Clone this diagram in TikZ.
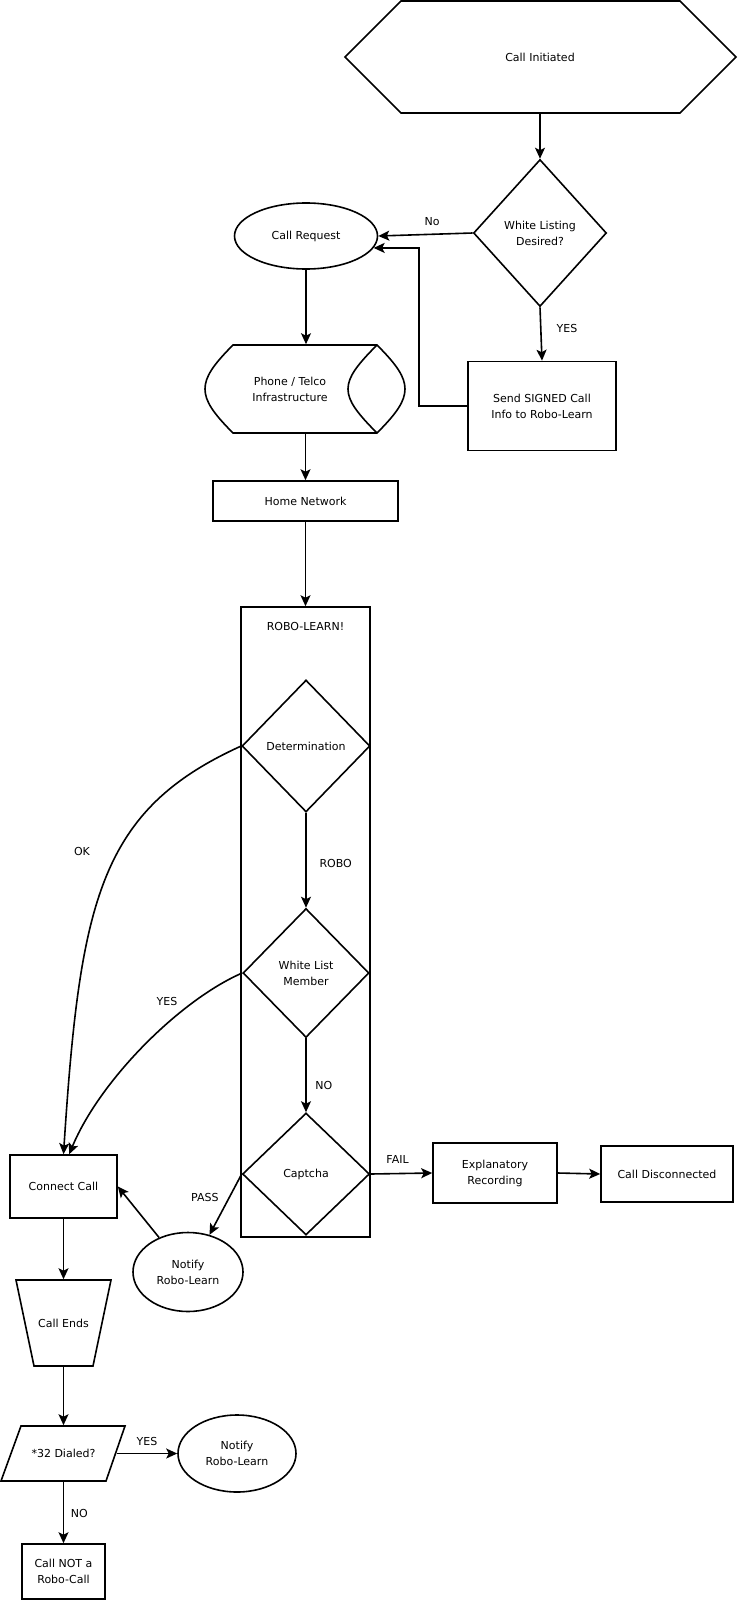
\documentclass[tikz,border=0pt]{standalone}
\usepackage{fontspec}
\setmainfont{DejaVu Sans}
\usetikzlibrary{shapes.geometric,arrows.meta,positioning}

\begin{document}
\begin{tikzpicture}[x=1pt,y=1pt,yscale=-1,xscale=1,
    line width=1.6pt,
    every node/.style={font=\fontsize{11}{16}\selectfont, align=center, inner sep=1pt},
    plain/.style={rectangle, inner sep=0pt},
    box/.style={rectangle, draw, inner sep=0pt},
    oval/.style={ellipse, draw, inner sep=0pt},
    decision/.style={diamond, draw, inner sep=0pt},
    arr/.style={-{Stealth[length=11pt,width=10pt,inset=2.5pt]}}
  ]
  \useasboundingbox (0,0) rectangle (737,1600);

  % Shape: Sechseck oben
  \draw (345,57) -- (401,1) -- (680,1) -- (736,57) -- (680,113) -- (401,113) -- cycle ;
  \node [plain, minimum width=391pt, minimum height=112pt] (init) at (540,57) {Call Initiated};

  % Shape: Rauten und Ellipse oben
  \node [decision, minimum width=133pt, minimum height=147pt] (wld) at (540,233) {White Listing\\Desired?};
  \node [oval, minimum width=143pt, minimum height=66pt] (req) at (306,236) {Call Request};
  \node [box, minimum width=148pt, minimum height=89pt] (send) at (542,406) {Send SIGNED Call\\Info to Robo-Learn};

  % Shape: Phone / Telco (liegender Zylinder)
  \draw (233,345) -- (377,345) .. controls (397,365) and (405,377) .. (405,389) .. controls (405,401) and (397,413) .. (377,433) -- (233,433) .. controls (213,413) and (205,401) .. (205,389) .. controls (205,377) and (213,365) .. (233,345) -- cycle ;
  \draw (377,345) .. controls (357,365) and (348,377) .. (348,389) .. controls (348,401) and (357,413) .. (377,433) ;
  \node [plain, minimum width=140pt, minimum height=88pt] (phone) at (290,389) {Phone / Telco\\Infrastructure};

  \node [box, minimum width=185pt, minimum height=40pt] (home) at (305.5,501) {Home Network};

  % Shape: ROBO-LEARN! Rahmen
  \node [box, minimum width=129pt, minimum height=630pt] (robo) at (305.5,922) {};
  \node (robotitle) at (305.5,626) {ROBO-LEARN!};
  \node [decision, minimum width=128pt, minimum height=132pt] (det) at (306,746) {Determination};
  \node [decision, minimum width=126pt, minimum height=129pt] (wlm) at (306,973) {White List\\Member};
  \node [decision, minimum width=127pt, minimum height=122pt] (cap) at (306,1174) {Captcha};

  \node [box, minimum width=124pt, minimum height=60pt] (expl) at (495,1173) {Explanatory\\Recording};
  \node [box, minimum width=132pt, minimum height=56pt] (disc) at (667,1174) {Call Disconnected};
  \node [box, minimum width=107pt, minimum height=63pt] (conn) at (63.5,1186.5) {Connect Call};
  \node [oval, minimum width=110pt, minimum height=79pt] (notea) at (188,1272) {Notify\\Robo-Learn};

  % Shape: Trapez
  \draw (16,1280) -- (111,1280) -- (93,1366) -- (34,1366) -- cycle ;
  \node [plain, minimum width=95pt, minimum height=86pt] (ends) at (63.5,1323) {Call Ends};

  % Shape: Parallelogramm
  \draw (21,1426) -- (125,1426) -- (106,1481) -- (1,1481) -- cycle ;
  \node [plain, minimum width=105pt, minimum height=55pt] (dialed) at (63.5,1453.5) {*32 Dialed?};
  \node [oval, minimum width=118pt, minimum height=77pt] (noteb) at (237,1453.5) {Notify\\Robo-Learn};
  \node [box, minimum width=83pt, minimum height=55pt] (notrobo) at (63.5,1571.5) {Call NOT a\\Robo-Call};

  % Pfeile
  \draw [arr] (init.south) -- (wld.north) ;
  \draw [arr] (wld.west) -- node [above, inner sep=8pt, pos=0.43] {No} (req.east) ;
  \draw [arr] (wld.south) -- node [right, inner sep=15pt, pos=0.39] {YES} (send.north) ;
  \draw [arr] (send.west) -- ++(-48,0) |- (req.-10) ;
  \draw [arr] (req.south) -- (req.south |- phone.north) ;
  \draw [arr] (home.north |- phone.south) -- (home.north) ;
  \draw [arr] (home.south) -- (robo.north) ;
  \draw [arr] (det.south) -- node [right, inner sep=12.7pt, pos=0.53] {ROBO} (wlm.north) ;
  \draw [arr] (wlm.south) -- node [right, inner sep=8.5pt, pos=0.64] {NO} (cap.north) ;
  \draw [arr] (cap.east) -- node [above, inner sep=9pt, pos=0.44] {FAIL} (expl.west) ;
  \draw [arr] (expl.east) -- (disc.west) ;
  \draw [arr] (cap.west) -- node [left, inner sep=10pt, pos=0.38] {PASS} (notea.60) ;
  \draw [arr] (notea.130) -- (conn.east) ;
  \draw [arr] (det.west) .. controls (100,810) and (80,900) .. (conn.north) ;
  \draw [arr] (wlm.west) .. controls (180,1000) and (100,1080) .. (conn.80) ;
  \node (oklbl) at (82,851) {OK};
  \node (yeslbl) at (167,1001) {YES};
  \draw [arr] (conn.south) -- (ends.north) ;
  \draw [arr] (ends.south) -- (dialed.north) ;
  \draw [arr] (dialed.east) -- node [above, inner sep=7.5pt] {YES} (noteb.west) ;
  \draw [arr] (dialed.south) -- node [right, inner sep=6.5pt, pos=0.51] {NO} (notrobo.north) ;

\end{tikzpicture}
\end{document}
